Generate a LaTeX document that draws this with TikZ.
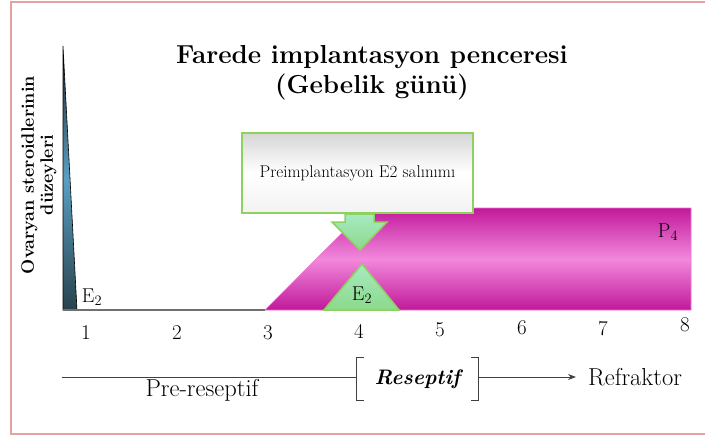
\documentclass[tikz,border=0pt]{standalone}
\usepackage{fontspec}
\usetikzlibrary{arrows.meta,calc}
\definecolor{bordercol}{HTML}{E2A3A3}
\definecolor{magdark}{HTML}{C0199A}
\definecolor{maglight}{HTML}{F288DC}
\definecolor{greenline}{HTML}{8FD15E}
\definecolor{greenfillA}{HTML}{A6EAC2}
\definecolor{greenfillB}{HTML}{8CD98A}
\definecolor{spiketop}{HTML}{1C2226}
\definecolor{spikemid}{HTML}{5B9FC2}
\definecolor{spikebot}{HTML}{28424C}
\definecolor{axisgray}{HTML}{707070}
\tikzset{
  daynum/.style={font=\fontsize{21}{24}\selectfont, inner sep=0pt},
  elabel/.style={font=\fontsize{20}{22}\selectfont, inner sep=0pt},
  greenshape/.style={draw=greenline, line width=1.5pt, top color=greenfillA, bottom color=greenfillB},
  timeline/.style={draw=black!75, line width=1pt},
  bottomtext/.style={font=\fontsize{24.5}{28}\selectfont, inner sep=0pt},
}
\begin{document}
\begin{tikzpicture}[x=1pt,y=-1pt]
\useasboundingbox (0,0) rectangle (705,437);
% frame
\draw[bordercol, line width=2pt] (706,2) -- (11,2) -- (11,434) -- (706,434);
% title
\node[font=\fontsize{26}{30}\selectfont\bfseries, align=center] (title) at (372,73)
  {Farede implantasyon penceresi\\(Gebelik günü)};
% y label
\node[rotate=90, font=\fontsize{18}{19}\selectfont\bfseries, align=center] (ylab) at (39,175)
  {Ovaryan steroidlerinin\\düzeyleri};
% spike
\path[draw=black, line width=0.6pt, top color=spiketop, bottom color=spikebot, middle color=spikemid]
  (63,46) -- (77,310) -- (63,310) -- cycle;
\node[elabel] (e2a) at (92,297) {E$_2$};
% magenta plateau
\path[draw=maglight!80!magdark, line width=0.6pt, top color=magdark, bottom color=magdark, middle color=maglight]
  (265,310) -- (367,208) -- (691,208) -- (691,310) -- cycle;
\node[elabel] (p4) at (668,232) {P$_4$};
% baseline
\draw[axisgray, line width=1.2pt] (63,310) -- (265,310);
% E2 triangle
\path[greenshape] (324,310) -- (362,264) -- (399,310) -- cycle;
\node[elabel] (e2b) at (362,295) {E$_2$};
% box
\node[draw=greenline, line width=1.5pt, top color=black!16, bottom color=black!5, middle color=white,
  minimum width=231pt, minimum height=80pt, inner sep=0pt, font=\fontsize{17}{19}\selectfont] (box) at (357.5,173)
  {Preimplantasyon E2 salınımı};
% down arrow
\path[greenshape] (345,214) -- (374,214) -- (374,222) -- (387,222) -- (360,250) -- (332,222) -- (345,222) -- cycle;
% day numbers
\node[daynum] (d1) at (86,333) {1};
\node[daynum] (d2) at (177,333) {2};
\node[daynum] (d3) at (268,333) {3};
\node[daynum] (d4) at (359,331) {4};
\node[daynum] (d5) at (440,330) {5};
\node[daynum] (d6) at (522,328) {6};
\node[daynum] (d7) at (603,329) {7};
\node[daynum] (d8) at (685,325) {8};
% time line
\coordinate (tstart) at (62,377);
\node[minimum width=121pt, minimum height=42pt, inner sep=0pt,
  font=\fontsize{21}{24}\selectfont\bfseries\itshape] (resep) at (417.5,379) {Reseptif};
\draw[timeline] ([xshift=7pt]resep.north west) -- (resep.north west) -- (resep.south west) -- ([xshift=7pt]resep.south west);
\draw[timeline] ([xshift=-7pt]resep.north east) -- (resep.north east) -- (resep.south east) -- ([xshift=-7pt]resep.south east);
\node[bottomtext, anchor=west] (refr) at (588,377) {Refraktor};
\draw[timeline] (tstart) -- (tstart -| resep.west);
\draw[timeline, -{Stealth[length=8pt,width=6pt]}] (resep.east |- tstart) -- ([xshift=-12pt]refr.west |- tstart);
\node[bottomtext] (prer) at (202,390) {Pre-reseptif};
\end{tikzpicture}
\end{document}
